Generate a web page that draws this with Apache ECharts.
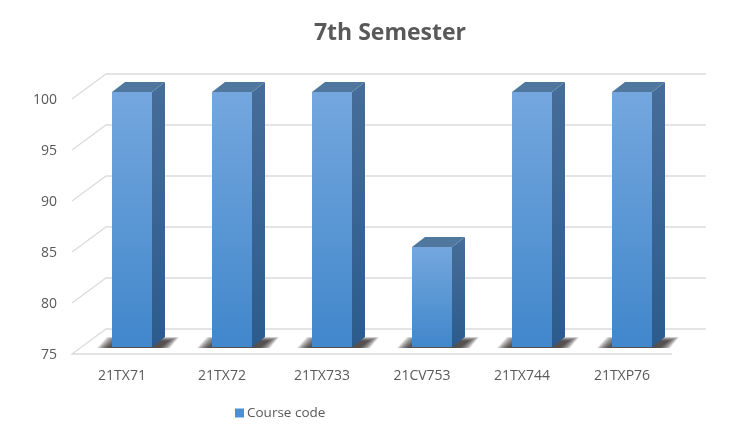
<!DOCTYPE html>
<html><head><meta charset="utf-8">
<style>html,body{margin:0;padding:0;background:#fff}#c{width:750px;height:438px}</style>
<script src="https://cdn.jsdelivr.net/npm/echarts@6/dist/echarts.min.js"></script>
</head><body><div id="c"></div>
<script>
const categories = ['21TX71','21TX72','21TX733','21CV753','21TX744','21TXP76'];
const courseCode = [100,100,100,84.8,100,100];
const yTicks = [75,80,85,90,95,100];
const seriesName = 'Course code';
const FONT = '"Open Sans", sans-serif';
const TEXT = '#595959';
const chart = echarts.init(document.getElementById('c'), null, {renderer:'canvas'});
const WALL = {dx:34, dy:-25};
const BAR = {dx:10, dy:-7, w:40, sx:13, sy:-10};
const grad = (c0,c1)=>new echarts.graphic.LinearGradient(0,0,0,1,[{offset:0,color:c0},{offset:1,color:c1}]);
chart.setOption({
  animation:false,
  backgroundColor:'#fff',
  title:{text:'7th Semester',left:385,top:17,textAlign:'center',
    textStyle:{fontFamily:FONT,fontSize:23,fontWeight:'bold',color:TEXT}},
  legend:{data:[{name:seriesName,icon:'rect',itemStyle:{color:'#4a90d6'}}],left:230,top:401,itemWidth:9,itemHeight:9,itemGap:1,
    textStyle:{fontFamily:FONT,fontSize:13.5,color:TEXT,padding:[0,0,0,-2]}},
  grid:{left:72,right:78,top:99,bottom:84},
  xAxis:{type:'category',data:categories,axisLine:{show:false},axisTick:{show:false},
    axisLabel:{margin:15,fontFamily:FONT,fontSize:14,color:TEXT}},
  yAxis:{type:'value',min:75,max:100,interval:5,axisLine:{show:false},axisTick:{show:false},splitLine:{show:false},
    axisLabel:{margin:15,fontFamily:FONT,fontSize:14,color:TEXT,verticalAlign:'top',lineHeight:2}},
  series:[
    {type:'custom',name:'walls',silent:true,z:1,clip:false,
     encode:{y:0},data:yTicks.map(v=>[v]),
     renderItem(params,api){
       const v=api.value(0), cs=params.coordSys;
       const y=api.coord([0,v])[1], x0=cs.x, x1=cs.x+cs.width;
       const st={stroke:'#dcdcdc',lineWidth:1.3,fill:null};
       const pts=[[x0,y],[x0+WALL.dx,y+WALL.dy],[x1+WALL.dx,y+WALL.dy]];
       if(v===yTicks[0]) pts.unshift([x1,y]);
       return {type:'polyline',shape:{points:pts},style:st};
     }},
    {type:'custom',name:seriesName,silent:true,z:2,clip:false,
     itemStyle:{color:'#4a90d6'},
     encode:{x:0,y:1},data:courseCode.map((v,i)=>[i,v]),
     renderItem(params,api){
       const i=api.value(0), v=api.value(1);
       const top=api.coord([i,v]), base=api.coord([i,yTicks[0]]);
       const l=top[0]+BAR.dx-BAR.w/2, r=l+BAR.w, t=top[1]+BAR.dy, b=base[1]+BAR.dy;
       const poly=(points,fill)=>({type:'polygon',shape:{points},style:{fill}});
       const soft=[];
       for(let k=10;k>=0;k--){
         const dx=k*1.1, dy=k*0.4;
         soft.push(poly([[l-4-dx,b+1],[l+6-dx,b-6-dy],[r+16+dx,b-6-dy],[r+7+dx,b+1]],'rgba(50,45,40,.14)'));
       }
       return {type:'group',children:soft.concat([
         poly([[r,t],[r+BAR.sx,t+BAR.sy],[r+BAR.sx,b+BAR.sy],[r,b]],grad('#476d99','#2b5c8d')),
         poly([[l,t],[l+BAR.sx,t+BAR.sy],[r+BAR.sx,t+BAR.sy],[r,t]],'#50789f'),
         {type:'rect',shape:{x:l,y:t,width:BAR.w,height:b-t},style:{fill:grad('#74a7de','#4187cb')}}
       ])};
     }}
  ]
});
</script></body></html>
